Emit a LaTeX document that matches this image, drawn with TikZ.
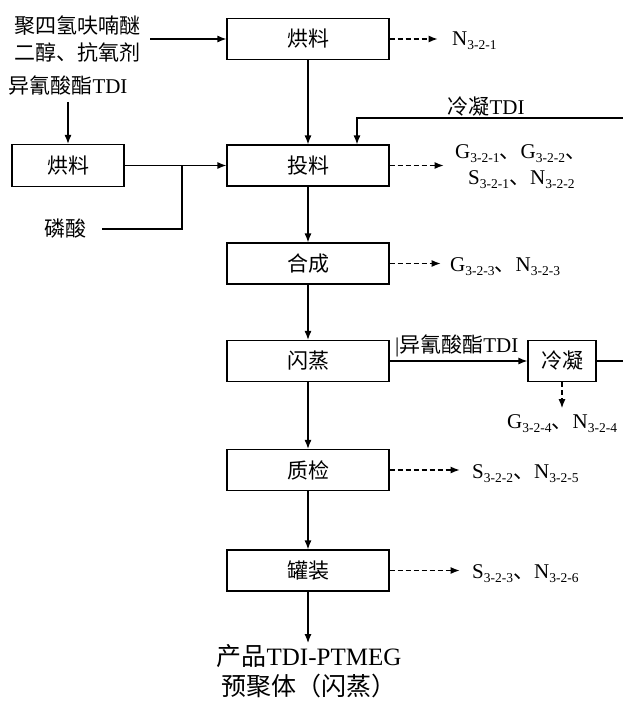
\documentclass[tikz,border=0pt]{standalone}
\usepackage{fontspec}
\setmainfont{Liberation Serif}
\newfontfamily\cjk{Noto Sans CJK SC}
\usetikzlibrary{arrows.meta}
\newcommand\zh[1]{{\cjk #1}}
\newcommand\sbs[1]{\raisebox{-4pt}{\fontsize{13.5}{14}\selectfont #1}}
\begin{document}
\begin{tikzpicture}[x=1pt,y=-1pt, font=\fontsize{21}{28}\selectfont,
 box/.style={draw, line width=1.2pt, minimum width=162pt, minimum height=41pt, inner sep=0pt},
 arr/.style={line width=1.2pt, -{Latex[length=9pt,width=7pt]}},
 darr/.style={arr, dash pattern=on 5pt off 3pt},
 ln/.style={line width=1.2pt},
 lbl/.style={inner sep=0pt, anchor=base west}]
\useasboundingbox (0,0) rectangle (622,702);
% process boxes
\node[box] (b1) at (308,39) {\zh{烘料}};
\node[box] (b2) at (308,165.5) {\zh{投料}};
\node[box] (b3) at (308,263.5) {\zh{合成}};
\node[box] (b4) at (308,361) {\zh{闪蒸}};
\node[box] (b5) at (308,470) {\zh{质检}};
\node[box] (b6) at (308,570.5) {\zh{罐装}};
\node[box, minimum width=112pt, minimum height=42pt] (lb) at (68,165.5) {\zh{烘料}};
\node[box, minimum width=68pt] (cn) at (562,361) {\zh{冷凝}};
% inputs
\node[align=center, inner sep=0pt, font=\fontsize{21}{27}\selectfont] (t1) at (78,39) {\zh{聚四氢呋喃醚}\\\zh{二醇、抗氧剂}};
\draw[arr] ([xshift=9pt]t1.east) -- (b1.west);
\node[inner sep=0pt] (t2) at (68,86) {\zh{异氰酸酯}TDI};
\draw[arr] ([yshift=-6pt]t2.south) -- (lb.north);
\draw[arr] (lb.east) -- (b2.west);
\coordinate (j) at (182,165.5);
\node[inner sep=0pt] (t3) at (66,229) {\zh{磷酸}};
\draw[ln] ([xshift=15pt]t3.east) -| (j);
\node[inner sep=0pt] (t4) at (486,107) {\zh{冷凝}TDI};
\coordinate (ret) at (357,118);
\draw[arr] (cn.east) -| (640,118) -- (ret) -- (ret |- b2.north);
% main chain
\draw[arr] (b1.south) -- (b2.north);
\draw[arr] (b2.south) -- (b3.north);
\draw[arr] (b3.south) -- (b4.north);
\draw[arr] (b4.south) -- (b5.north);
\draw[arr] (b5.south) -- (b6.north);
\draw[arr] (b4.east) -- (cn.west);
\node[lbl] (t5) at (395,352) {|\zh{异氰酸酯}TDI};
% emissions
\draw[darr] (b1.east) -- ++(48,0) coordinate (e1);
\node[lbl] (o1) at (452,45) {N\sbs{3-2-1}};
\draw[darr] (b2.east) -- ++(54,0) coordinate (e2);
\node[lbl] (o2a) at (455,158) {G\sbs{3-2-1}\zh{、}G\sbs{3-2-2}\zh{、}};
\node[lbl] (o2b) at (468,184) {S\sbs{3-2-1}\zh{、}N\sbs{3-2-2}};
\draw[darr] (b3.east) -- ++(51,0) coordinate (e3);
\node[lbl] (o3) at (450,271) {G\sbs{3-2-3}\zh{、}N\sbs{3-2-3}};
\draw[darr] (cn.south) -- ++(0,26) coordinate (e4);
\node[lbl] (o4) at (507,428) {G\sbs{3-2-4}\zh{、}N\sbs{3-2-4}};
\draw[darr] (b5.east) -- ++(70,0) coordinate (e5);
\node[lbl] (o5) at (472,478) {S\sbs{3-2-2}\zh{、}N\sbs{3-2-5}};
\draw[darr] (b6.east) -- ++(70,0) coordinate (e6);
\node[lbl] (o6) at (472,578) {S\sbs{3-2-3}\zh{、}N\sbs{3-2-6}};
% product
\coordinate (pe) at (308,643);
\draw[arr] (b6.south) -- (pe);
\node[align=center, inner sep=0pt, font=\fontsize{25}{30}\selectfont, anchor=north] (p) at (309,644) {\zh{产品}TDI-PTMEG\\\zh{预聚体（闪蒸）}};
\end{tikzpicture}
\end{document}
